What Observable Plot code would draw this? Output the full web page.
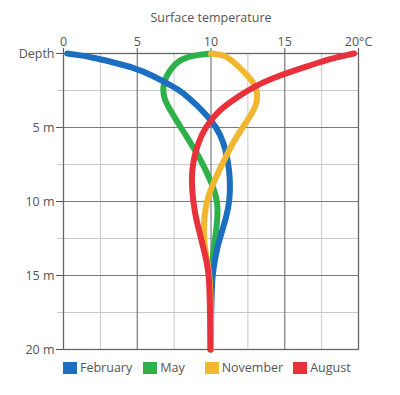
<!DOCTYPE html>
<html><head><meta charset="utf-8">
<script src="https://cdn.jsdelivr.net/npm/d3@7"></script>
<script src="https://cdn.jsdelivr.net/npm/@observablehq/plot@0.6"></script>
<style>
body{margin:0;background:#fff;font-family:"Open Sans",sans-serif;}
#wrap{position:relative;width:400px;height:395px;}
#legend{position:absolute;top:359px;left:63px;display:flex;align-items:center;font-size:12.5px;color:#555;}
#legend .it{display:flex;align-items:center;}
#legend .sw{width:14px;height:12px;margin-right:3px;}
</style></head>
<body><div id="wrap"><div id="chart"></div><div id="legend"></div></div>
<script>
const months = ["February", "May", "November", "August"];
const colors = ["#1c6fc0", "#2eb04b", "#f2b630", "#e8313a"];
const depths = [0, 0.1, 0.25, 0.5, 1, 1.5, 2, 2.5, 3, 3.5, 4, 5, 6, 7, 8, 9, 10, 11, 12, 13, 14, 15, 16, 18, 20];
const february = [0.25, 1.0, 1.9, 3.0, 4.95, 6.05, 7.0, 7.9, 8.5, 9.05, 9.55, 10.4, 10.85, 11.1, 11.25, 11.3, 11.25, 11.05, 10.75, 10.45, 10.25, 10.1, 10.05, 10.0, 10.0];
const may = [10, 9.0, 8.4, 7.8, 7.3, 7.0, 6.8, 6.75, 6.82, 7.05, 7.35, 7.95, 8.6, 9.2, 9.7, 10.15, 10.45, 10.45, 10.35, 10.2, 10.1, 10.0, 10.0, 10.0, 10.0];
const november = [10, 10.8, 11.1, 11.45, 12.0, 12.5, 12.9, 13.1, 13.15, 13.05, 12.8, 12.15, 11.5, 11.0, 10.5, 10.05, 9.7, 9.55, 9.5, 9.55, 9.75, 9.9, 9.95, 10.0, 10.0];
const august = [19.7, 19.2, 18.6, 17.6, 16.1, 14.6, 13.4, 12.5, 11.7, 11.0, 10.4, 9.6, 9.15, 8.85, 8.7, 8.7, 8.8, 8.95, 9.2, 9.45, 9.7, 9.85, 9.9, 9.95, 9.95];
const majorTicks = [0, 5, 10, 15, 20];
const minorTicks = [2.5, 7.5, 12.5, 17.5];
const xTickLabels = ["0", "5", "10", "15", "20°C"];
const yTickLabels = ["Depth", "5 m", "10 m", "15 m", "20 m"];
const title = "Surface temperature";
const legendGaps = [11, 20, 10, 0];

const series = {February: february, May: may, November: november, August: august};
const drawOrder = ["May", "February", "November", "August"];
const rows = drawOrder.flatMap(m => depths.map((d, i) => ({month: m, d, t: series[m][i]})));

const chart = Plot.plot({
  width: 400, height: 358,
  marginTop: 53, marginLeft: 63, marginRight: 42, marginBottom: 9,
  style: {fontFamily: "Open Sans, sans-serif", fontSize: "12.5px", color: "#555"},
  x: {domain: [0, 20], axis: "top", ticks: majorTicks, tickFormat: d => xTickLabels[majorTicks.indexOf(d)], tickSize: 6, tickPadding: 2, label: null},
  y: {domain: [0, 20], reverse: true, ticks: majorTicks, tickFormat: d => yTickLabels[majorTicks.indexOf(d)], tickSize: 7, tickPadding: 2, label: null},
  color: {domain: months, range: colors},
  marks: [
    Plot.ruleX(minorTicks, {stroke: "#c9c9c9", strokeOpacity: 1, strokeWidth: 1}),
    Plot.ruleY(minorTicks, {x1: -0.4, x2: 20, stroke: "#c9c9c9", strokeOpacity: 1, strokeWidth: 1}),
    Plot.ruleX([5, 10, 15], {stroke: "#7a7a7a", strokeWidth: 1.2}),
    Plot.ruleY([5, 10, 15], {stroke: "#7a7a7a", strokeWidth: 1.2}),
    Plot.frame({stroke: "#666", strokeWidth: 1.3}),
    Plot.line(rows, {x: "t", y: "d", z: "month", stroke: "month", strokeWidth: 6, curve: "basis", strokeLinecap: "round"}),
    Plot.text([title], {frameAnchor: "top", dy: -40, fill: "#555", fontSize: 12.5})
  ]
});
document.getElementById("chart").appendChild(chart);

const lg = document.getElementById("legend");
months.forEach((m, i) => {
  const it = document.createElement("div"); it.className = "it";
  it.style.marginRight = legendGaps[i] + "px";
  const sw = document.createElement("div"); sw.className = "sw"; sw.style.background = colors[i];
  const tx = document.createElement("span"); tx.textContent = m;
  it.appendChild(sw); it.appendChild(tx); lg.appendChild(it);
});
</script>
</body></html>
